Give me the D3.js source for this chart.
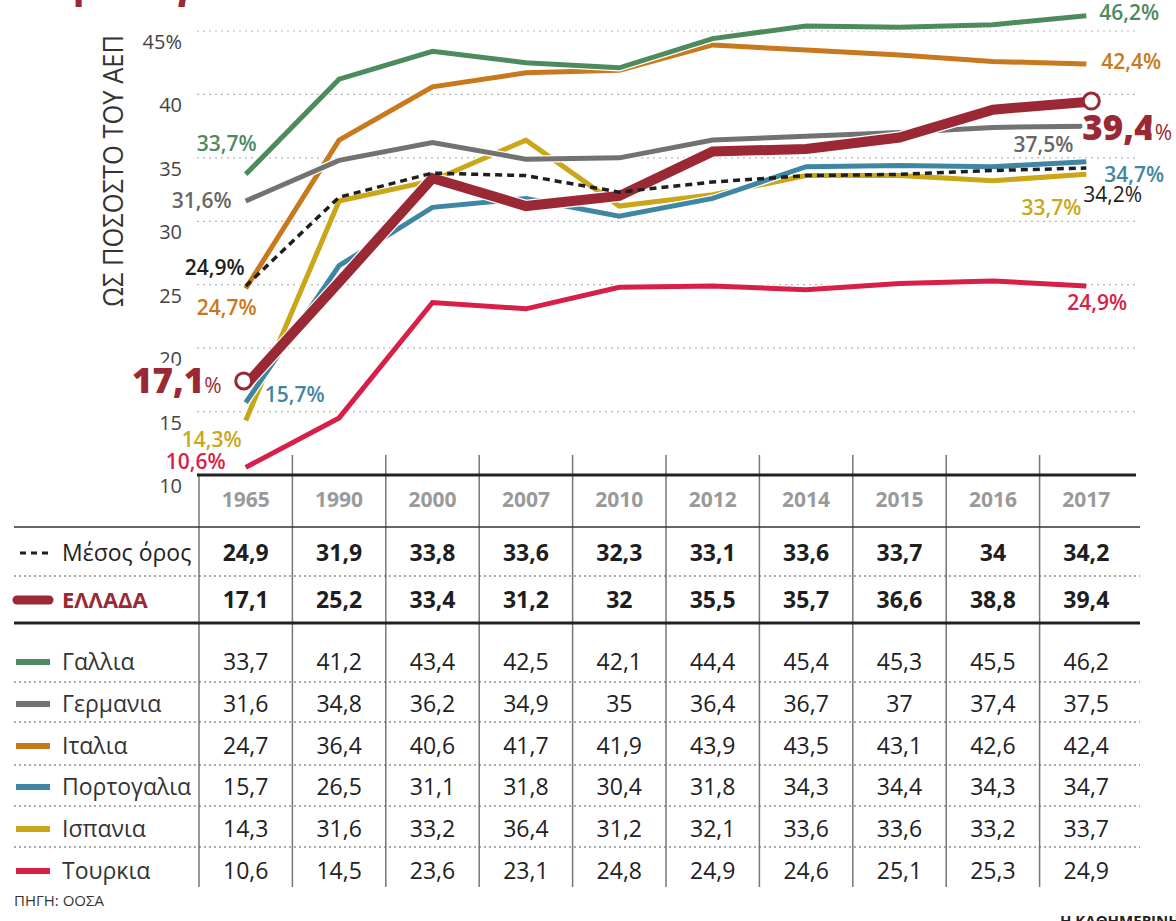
<!DOCTYPE html>
<html><head><meta charset="utf-8">
<script src="https://cdn.jsdelivr.net/npm/d3@7"></script>
<style>
html,body{margin:0;padding:0;background:#fff;}
svg{display:block;font-family:"Open Sans","Noto Sans",sans-serif;}
</style></head>
<body><svg id="c" width="1176" height="921"></svg>
<script>
const years = ["1965","1990","2000","2007","2010","2012","2014","2015","2016","2017"];
const yTicks = [10,15,20,25,30,35,40,45];
const meanVals   = [24.9,31.9,33.8,33.6,32.3,33.1,33.6,33.7,34,34.2];
const greeceVals = [17.1,25.2,33.4,31.2,32,35.5,35.7,36.6,38.8,39.4];
const franceVals   = [33.7,41.2,43.4,42.5,42.1,44.4,45.4,45.3,45.5,46.2];
const germanyVals  = [31.6,34.8,36.2,34.9,35,36.4,36.7,37,37.4,37.5];
const italyVals    = [24.7,36.4,40.6,41.7,41.9,43.9,43.5,43.1,42.6,42.4];
const portugalVals = [15.7,26.5,31.1,31.8,30.4,31.8,34.3,34.4,34.3,34.7];
const spainVals    = [14.3,31.6,33.2,36.4,31.2,32.1,33.6,33.6,33.2,33.7];
const turkeyVals   = [10.6,14.5,23.6,23.1,24.8,24.9,24.6,25.1,25.3,24.9];
const countryLabels = ["Γαλλια","Γερμανια","Ιταλια","Πορτογαλια","Ισπανια","Τουρκια"];

const fmt = v => String(v).replace(".", ",");
const svg = d3.select("#c");

const colors = {France:"#4d8a5e",Germany:"#727272",Italy:"#c8781d",Portugal:"#3f86a2",Spain:"#c9a718",Turkey:"#d61f49",Greece:"#9a2935",Mean:"#1e1e1e"};
const labelColors = {France:"#4d8a5e",Germany:"#666",Italy:"#c8781d",Portugal:"#3f86a2",Spain:"#c9a718",Turkey:"#d61f49",Greece:"#9a2935",Mean:"#1e1e1e"};

const series = [
  {key:"Turkey",vals:turkeyVals,w:5},
  {key:"Spain",vals:spainVals,w:5},
  {key:"Portugal",vals:portugalVals,w:5},
  {key:"Italy",vals:italyVals,w:5},
  {key:"Germany",vals:germanyVals,w:5},
  {key:"France",vals:franceVals,w:5},
  {key:"Greece",vals:greeceVals,w:10},
  {key:"Mean",vals:meanVals,w:3.5,dash:"7,5"}
];

const x = d3.scaleBand().domain(years).range([199,1133]);
const xc = d => x(d) + x.bandwidth()/2;
const y = d3.scaleLinear().domain([10,45]).range([475,31]);

// partial title (cut at top edge, as in the reference)
svg.append("text").attr("x",14).attr("y",-2).attr("fill","#9a2935")
  .attr("font-size",40).attr("font-weight",700).text("Φορολογικά έσοδα");

// y axis title
svg.append("text").attr("transform",`translate(123,${(35+307)/2}) rotate(-90)`)
  .attr("text-anchor","middle").attr("font-size",28).attr("fill","#333")
  .attr("textLength",272).attr("lengthAdjust","spacingAndGlyphs")
  .text("ΩΣ ΠΟΣΟΣΤΟ ΤΟΥ ΑΕΠ");

// gridlines
const grid = svg.append("g");
yTicks.filter(t=>t>10).forEach(t=>{
  grid.append("line").attr("x1",197).attr("x2",1137).attr("y1",y(t)).attr("y2",y(t))
    .attr("stroke","#b5b5b5").attr("stroke-width",1.2).attr("stroke-dasharray","2,4");
});
// tick labels
yTicks.forEach(t=>{
  svg.append("text").attr("x",182).attr("y",y(t)+18).attr("text-anchor","end")
    .attr("font-size",20).attr("fill","#444").text(t===45?"45%":t);
});

// lines
const line = d3.line().x((d,i)=>xc(years[i])).y(d=>y(d)).curve(d3.curveLinear);
const lg = svg.append("g");
series.forEach(s=>{
  if(!s.dash){
    lg.append("path").attr("d",line(s.vals)).attr("fill","none").attr("stroke","#fff")
      .attr("stroke-width",s.w+2.5).attr("stroke-linejoin","miter");
  }
  lg.append("path").attr("d",line(s.vals)).attr("fill","none").attr("stroke",colors[s.key])
    .attr("stroke-width",s.w).attr("stroke-linejoin","miter").attr("stroke-linecap","butt")
    .attr("stroke-dasharray",s.dash||null);
});

// labels
const first = xc(years[0]), last = xc(years[years.length-1]);
const byKey = {}; series.forEach(s=>byKey[s.key]=s.vals);
const startLabels = [
  {k:"France",dx:11,dy:-31,a:"end",bold:true},
  {k:"Germany",dx:-14,dy:0,a:"end",bold:true},
  {k:"Mean",dx:-1,dy:-18,a:"end",bold:true},
  {k:"Italy",dx:11,dy:19,a:"end",bold:true},
  {k:"Portugal",dx:19,dy:-8,a:"start",bold:true},
  {k:"Spain",dx:-4,dy:19,a:"end",bold:true},
  {k:"Turkey",dx:-20,dy:-6,a:"end",bold:true}
];
const endLabels = [
  {k:"France",dx:13,dy:-3,a:"start",bold:true},
  {k:"Italy",dx:15,dy:-2,a:"start",bold:true},
  {k:"Germany",dx:-13,dy:19,a:"end",bold:true},
  {k:"Portugal",dx:18,dy:13,a:"start",bold:true},
  {k:"Mean",dx:-3,dy:27,a:"start",bold:false},
  {k:"Spain",dx:-5,dy:33,a:"end",bold:true},
  {k:"Turkey",dx:-19,dy:17,a:"start",bold:true}
];
const labG = svg.append("g");
function addLabel(px,v,l){
  labG.append("text").attr("x",px+l.dx).attr("y",y(v)+l.dy).attr("dy","0.35em")
    .attr("text-anchor",l.a).attr("font-size",21).attr("font-weight",l.bold?600:500)
    .attr("fill",labelColors[l.k]).text(fmt(v)+"%");
}
startLabels.forEach(l=>addLabel(first,byKey[l.k][0],l));
endLabels.forEach(l=>addLabel(last,byKey[l.k][years.length-1],l));

// Greece big labels
function bigLabel(px,v,dx,dy,anchor){
  const t = labG.append("text").attr("x",px+dx).attr("y",y(v)+dy).attr("dy","0.35em")
    .attr("text-anchor",anchor).attr("fill",colors.Greece)
    .attr("stroke","#fff").attr("stroke-width",10).attr("paint-order","stroke").attr("stroke-linejoin","round");
  t.append("tspan").attr("font-size",35).attr("font-weight",800).text(fmt(v));
  t.append("tspan").attr("font-size",21).attr("font-weight",400).text("%");
}
bigLabel(first,greeceVals[0],-24,2,"end");
bigLabel(last,greeceVals[years.length-1],-4,32,"start");

// Greece circles
[0,years.length-1].forEach(i=>{
  svg.append("circle").attr("cx",xc(years[i])+(i===0?-2:5)).attr("cy",y(greeceVals[i])-(i===0?4:1)).attr("r",8)
    .attr("fill","#fff").attr("stroke",colors.Greece).attr("stroke-width",3);
});

// ---- table ----
const tg = svg.append("g");
const rowHeader = 500, rowMean = 553, rowGreece = 600;
const countryRows = [662,704,746,787,829,871];
const countryKeys = ["France","Germany","Italy","Portugal","Spain","Turkey"];
const countryData = [franceVals,germanyVals,italyVals,portugalVals,spainVals,turkeyVals];

years.forEach((yr,i)=>{
  const xx = x(yr);
  tg.append("line").attr("x1",xx).attr("x2",xx).attr("y1",i===0?475:455).attr("y2",887)
    .attr("stroke","#777").attr("stroke-width",1.5);
});
tg.append("line").attr("x1",197).attr("x2",1136).attr("y1",475).attr("y2",475).attr("stroke","#222").attr("stroke-width",3);
tg.append("line").attr("x1",14).attr("x2",1140).attr("y1",527).attr("y2",527).attr("stroke","#333").attr("stroke-width",1.5);
tg.append("line").attr("x1",14).attr("x2",1140).attr("y1",576).attr("y2",576).attr("stroke","#555").attr("stroke-width",1.2).attr("stroke-dasharray","2,3");
tg.append("line").attr("x1",14).attr("x2",1140).attr("y1",623).attr("y2",623).attr("stroke","#222").attr("stroke-width",3);
[682,722,765,806,847].forEach(yy=>{
  tg.append("line").attr("x1",14).attr("x2",1140).attr("y1",yy).attr("y2",yy).attr("stroke","#555").attr("stroke-width",1.2).attr("stroke-dasharray","2,3");
});

years.forEach(yr=>{
  tg.append("text").attr("x",xc(yr)).attr("y",rowHeader).attr("dy","0.35em").attr("text-anchor","middle")
    .attr("font-size",21).attr("font-weight",700).attr("fill","#9a9a9a").text(yr);
});
tg.append("line").attr("x1",20).attr("x2",50).attr("y1",rowMean).attr("y2",rowMean)
  .attr("stroke","#1e1e1e").attr("stroke-width",3).attr("stroke-dasharray","6,5");
tg.append("text").attr("x",62).attr("y",rowMean).attr("dy","0.35em").attr("font-size",23).attr("fill","#222").text("Μέσος όρος");
meanVals.forEach((v,i)=>{
  tg.append("text").attr("x",xc(years[i])).attr("y",rowMean).attr("dy","0.35em").attr("text-anchor","middle")
    .attr("font-size",23).attr("font-weight",700).attr("fill","#1e1e1e").text(fmt(v));
});
tg.append("line").attr("x1",17).attr("x2",49).attr("y1",rowGreece).attr("y2",rowGreece)
  .attr("stroke",colors.Greece).attr("stroke-width",9).attr("stroke-linecap","round");
tg.append("text").attr("x",62).attr("y",rowGreece).attr("dy","0.35em").attr("font-size",22).attr("font-weight",700).attr("fill",colors.Greece).text("ΕΛΛΑΔΑ");
greeceVals.forEach((v,i)=>{
  tg.append("text").attr("x",xc(years[i])).attr("y",rowGreece).attr("dy","0.35em").attr("text-anchor","middle")
    .attr("font-size",23).attr("font-weight",700).attr("fill","#1e1e1e").text(fmt(v));
});
countryKeys.forEach((k,r)=>{
  const yy = countryRows[r];
  tg.append("line").attr("x1",16).attr("x2",50).attr("y1",yy).attr("y2",yy)
    .attr("stroke",colors[k]).attr("stroke-width",6);
  tg.append("text").attr("x",62).attr("y",yy).attr("dy","0.35em").attr("font-size",23).attr("fill","#333")
    .attr("textLength",null).text(countryLabels[r]);
  countryData[r].forEach((v,i)=>{
    tg.append("text").attr("x",xc(years[i])).attr("y",yy).attr("dy","0.35em").attr("text-anchor","middle")
      .attr("font-size",23).attr("fill","#222").text(fmt(v));
  });
});

svg.append("text").attr("x",14).attr("y",906).attr("font-size",15).attr("fill","#333").text("ΠΗΓΗ: ΟΟΣΑ");
svg.append("text").attr("x",1060).attr("y",926).attr("font-size",15).attr("font-weight",700).attr("fill","#222").text("Η ΚΑΘΗΜΕΡΙΝΗ");
</script></body></html>
